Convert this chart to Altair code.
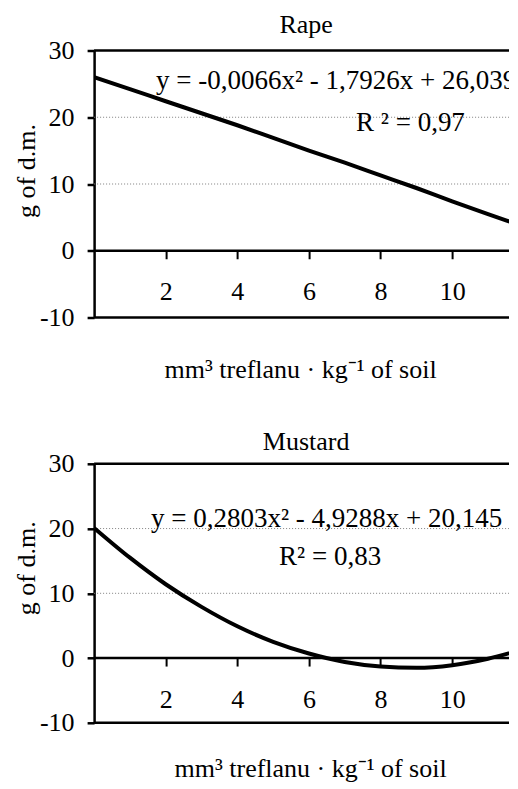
import altair as alt
import pandas as pd

# ---- data ----
x_vals = [0, 1, 2, 3, 4, 5, 6, 7, 8, 9, 10, 11, 12]
rape_g = [26.0, 24.2, 22.4, 20.6, 18.8, 16.9, 15.0, 13.2, 11.3, 9.4, 7.4, 5.5, 3.6]
mustard_g = [20.1, 15.5, 11.4, 7.9, 4.9, 2.5, 0.7, -0.6, -1.3, -1.5, -1.1, -0.1, 1.4]
grid_levels = [10, 20]
frame_levels = [-10, 0, 30]
y_ticks = [-10, 0, 10, 20, 30]
x_ticks = [2, 4, 6, 8, 10]
panel_titles = ["Rape", "Mustard"]
equations = ["y = -0,0066x² - 1,7926x + 26,039", "y = 0,2803x² - 4,9288x + 20,145"]
r2_labels = ["R ² = 0,97", "R² = 0,83"]
x_title = "mm³ treflanu · kg⁻¹ of soil"
y_title = "g of d.m."

FONT = "Liberation Serif"
FS = 26
FS_ANN = 27
X_MAX = 11.84
W = 424


def panel(title, values, eq, r2, h, eq_pos, r2_pos, ytitle_y, xtitle_x, xtitle_y, title_off):
    df = pd.DataFrame({"x": x_vals, "g": values})
    xs = alt.Scale(domain=[0, X_MAX], nice=False, zero=False)
    ys = alt.Scale(domain=[-10, 30], nice=False)
    x_axis = alt.Axis(
        values=x_ticks, offset=-h / 4, domain=False, grid=False,
        tickSize=8, tickWidth=2, tickColor="black",
        labelFont=FONT, labelFontSize=FS, labelColor="black",
        labelBaseline="alphabetic", labelPadding=41,
        title=x_title, titleFont=FONT, titleFontSize=FS, titleFontWeight="normal",
        titleColor="black", titleBaseline="alphabetic", titleAlign="center",
        titleX=xtitle_x, titleY=xtitle_y,
    )
    y_axis = alt.Axis(
        values=y_ticks, grid=False, domainWidth=2.5, domainColor="black",
        tickSize=7, tickWidth=2.5, tickColor="black",
        labelFont=FONT, labelFontSize=FS, labelColor="black", labelPadding=13,
        labelExpr="'' + datum.value",
        title=y_title, titleFont=FONT, titleFontSize=FS, titleFontWeight="normal",
        titleColor="black", titleAngle=270, titleBaseline="alphabetic",
        titleX=-60, titleY=ytitle_y,
    )
    grid = alt.Chart(pd.DataFrame({"y": grid_levels})).mark_rule(
        color="#808080", strokeWidth=1, strokeDash=[1, 2]
    ).encode(y=alt.Y("y:Q", scale=ys, axis=y_axis))
    frame = alt.Chart(pd.DataFrame({"y": frame_levels})).mark_rule(
        color="black", strokeWidth=2.5
    ).encode(y=alt.Y("y:Q", scale=ys, axis=y_axis))
    line = alt.Chart(df).mark_line(
        color="black", strokeWidth=4, clip=True, interpolate="monotone"
    ).encode(
        x=alt.X("x:Q", scale=xs, axis=x_axis),
        y=alt.Y("g:Q", scale=ys, axis=y_axis),
    )
    eqt = alt.Chart(pd.DataFrame({"t": [eq]})).mark_text(
        align="left", baseline="alphabetic", font=FONT, fontSize=FS_ANN,
        color="black", clip=True
    ).encode(x=alt.value(eq_pos[0]), y=alt.value(eq_pos[1]), text="t:N")
    r2t = alt.Chart(pd.DataFrame({"t": [r2]})).mark_text(
        align="left", baseline="alphabetic", font=FONT, fontSize=FS_ANN,
        color="black", clip=True
    ).encode(x=alt.value(r2_pos[0]), y=alt.value(r2_pos[1]), text="t:N")
    return alt.layer(grid, frame, line, eqt, r2t).properties(
        width=W, height=h,
        title=alt.TitleParams(
            title, font=FONT, fontSize=FS, fontWeight="normal", color="black",
            offset=title_off, anchor="middle", frame="group",
        ),
    )


top = panel(panel_titles[0], rape_g, equations[0], r2_labels[0], 267,
            (62, 38), (262, 80), 120, 206, 126.6, 0)
bottom = panel(panel_titles[1], mustard_g, equations[1], r2_labels[1], 259,
               (57, 63.5), (185, 101.7), 104, 216, 118, -4)

chart = alt.vconcat(top, bottom, spacing=46.3).properties(
    padding={"left": 5.1, "top": 3.5, "right": -11, "bottom": 2},
    background="white",
).configure_view(stroke=None)

chart.save("out.html", embed_options={"renderer": "svg", "actions": False})
